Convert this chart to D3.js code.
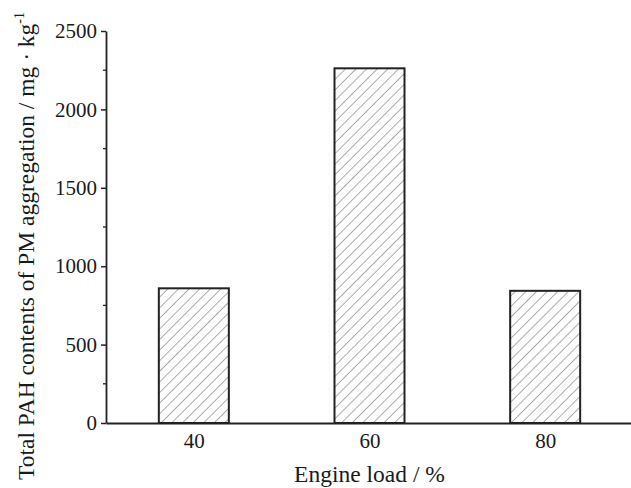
<!DOCTYPE html>
<html>
<head>
<meta charset="utf-8">
<script src="https://cdn.jsdelivr.net/npm/d3@7"></script>
<style>
  body { margin: 0; background: #fff; }
  svg { display: block; }
  text { font-family: "Liberation Serif", "Times New Roman", serif; fill: #1a1a1a; }
</style>
</head>
<body>
<svg id="chart" width="631" height="488"></svg>
<script>
// engine load categories and total PAH contents
var loads = [40, 60, 80];
var pahTotals = [859, 2262, 843];
var yTicks = [0, 500, 1000, 1500, 2000, 2500];
var yMinorTicks = [250, 750, 1250, 1750, 2250];

var svg = d3.select("#chart");
var plotLeft = 106, plotTop = 31, plotBottom = 423, plotRight = 633;

var x = d3.scaleLinear().domain([30, 90]).range([plotLeft, plotRight]);
var y = d3.scaleLinear().domain([0, 2500]).range([plotBottom, plotTop]);
var barW = 70;

var defs = svg.append("defs");
var pat = defs.append("pattern")
	.attr("id", "hatch")
	.attr("patternUnits", "userSpaceOnUse")
	.attr("width", 7.5).attr("height", 7.5)
	.attr("patternTransform", "rotate(45)");
pat.append("rect").attr("width", 7.5).attr("height", 7.5).attr("fill", "#fff");
pat.append("line")
	.attr("x1", 0).attr("y1", 0).attr("x2", 0).attr("y2", 7.5)
	.attr("stroke", "#6a6a6a").attr("stroke-width", 1.1);

// bars
svg.selectAll("rect.bar")
	.data(loads)
	.enter().append("rect")
	.attr("class", "bar")
	.attr("x", function (d) { return x(d) - barW / 2; })
	.attr("y", function (d, i) { return y(pahTotals[i]); })
	.attr("width", barW)
	.attr("height", function (d, i) { return plotBottom - y(pahTotals[i]); })
	.attr("fill", "url(#hatch)")
	.attr("stroke", "#222")
	.attr("stroke-width", 2);

// y axis
var yAxis = d3.axisLeft(y).tickValues(yTicks).tickFormat(d3.format("d"))
	.tickSize(5).tickPadding(4).tickSizeOuter(0);
var gy = svg.append("g").attr("transform", "translate(" + plotLeft + ",0)").call(yAxis);
gy.select(".domain").attr("stroke", "#222").attr("stroke-width", 1.8);
gy.selectAll(".tick line").attr("stroke", "#222").attr("stroke-width", 1.5);
gy.selectAll(".tick text").style("font-size", "21px").attr("fill", "#1a1a1a");

svg.append("g").selectAll("line")
	.data(yMinorTicks)
	.enter().append("line")
	.attr("x1", plotLeft - 3).attr("x2", plotLeft)
	.attr("y1", function (d) { return y(d); })
	.attr("y2", function (d) { return y(d); })
	.attr("stroke", "#222").attr("stroke-width", 1.3);

// x axis
var xAxis = d3.axisBottom(x).tickValues(loads).tickSize(0).tickPadding(10).tickSizeOuter(0);
var gx = svg.append("g").attr("transform", "translate(0," + plotBottom + ")").call(xAxis);
gx.select(".domain").attr("stroke", "#222").attr("stroke-width", 1.8);
gx.selectAll(".tick text").style("font-size", "21px").attr("fill", "#1a1a1a");

// labels
svg.append("text")
	.attr("x", x(60)).attr("y", 482)
	.attr("text-anchor", "middle")
	.style("font-size", "23.5px")
	.text("Engine load / %");

var yl = svg.append("text")
	.attr("transform", "translate(34,246) rotate(-90)")
	.attr("text-anchor", "middle")
	.style("font-size", "23.5px");
yl.append("tspan").text("Total PAH contents of PM aggregation / mg · kg");
yl.append("tspan").attr("dy", -10).style("font-size", "14px").text("-1");
</script>
</body>
</html>
